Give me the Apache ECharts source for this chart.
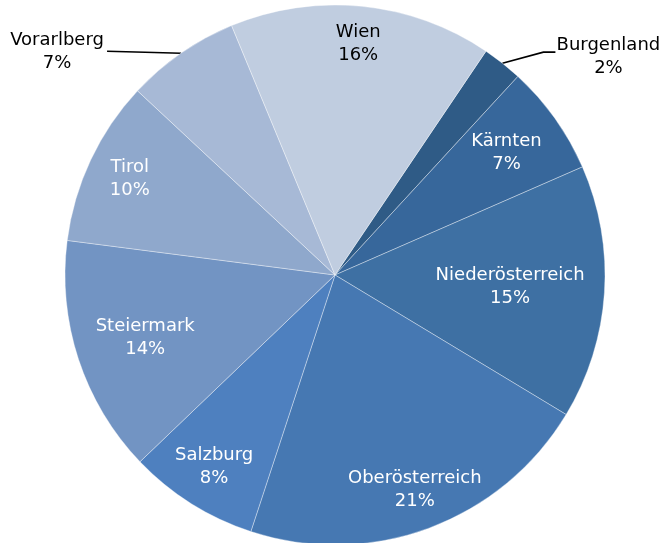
<!DOCTYPE html>
<html>
<head>
<meta charset="utf-8">
<script src="https://cdn.jsdelivr.net/npm/echarts@6/dist/echarts.min.js"></script>
<style>
  html, body { margin: 0; padding: 0; background: #fff; }
  #pieChart { width: 668px; height: 543px; }
</style>
</head>
<body>
<div id="pieChart"></div>
<script>
// Bundesländer, Anteile in %
const regions = ["Burgenland", "Kärnten", "Niederösterreich", "Oberösterreich", "Salzburg", "Steiermark", "Tirol", "Vorarlberg", "Wien"];
const shares = [2.4, 6.6, 15.2, 21.4, 7.8, 14.2, 9.9, 6.8, 15.7];

const colors = ["#2f5b86", "#37679b", "#3e70a3", "#4678b2", "#4e80bf", "#7294c3", "#8fa8cc", "#a7b9d6", "#c0cde0"];
// label distance from the centre (share of radius), null = outside
const labelDist = [null, 0.78, 0.65, 0.85, 0.84, 0.74, 0.84, null, 0.86];
const labelColor = ["#000", "#fff", "#fff", "#fff", "#fff", "#fff", "#fff", "#000", "#000"];

const cx = 335, cy = 275, R = 270;
const startDeg = 34; // clockwise from 12 o'clock

// mid angle of every slice
const total = shares.reduce((a, b) => a + b, 0);
let acc = 0;
const midAngles = shares.map(v => {
  const m = startDeg + (acc + v / 2) / total * 360;
  acc += v;
  return m * Math.PI / 180;
});

let chart = echarts.init(document.getElementById("pieChart"));

chart.setOption({
  animation: false,
  series: [
    {
      type: "pie",
      center: [cx, cy],
      radius: R,
      startAngle: 90 - startDeg,
      clockwise: true,
      percentPrecision: 0,
      avoidLabelOverlap: false,
      itemStyle: {
        borderColor: "rgba(255,255,255,0.6)",
        borderWidth: 0.6,
      },
      label: {
        show: true,
        position: "outside",
        formatter: "{b}\n{d}%",
        fontFamily: "DejaVu Sans",
        fontSize: 18,
        lineHeight: 23,
        align: "center",
      },
      labelLine: {
        show: true,
        lineStyle: { color: "#000", width: 1.6 },
      },
      labelLayout: function (params) {
        const i = params.dataIndex;
        const a = midAngles[i];
        const ex = cx + R * Math.sin(a), ey = cy - R * Math.cos(a);
        if (labelDist[i] != null) {
          return {
            x: cx + labelDist[i] * R * Math.sin(a),
            y: cy - labelDist[i] * R * Math.cos(a),
            align: "center",
            verticalAlign: "middle",
          };
        }
        if (i === 0) {
          // Burgenland, rechts oben
          return {
            x: ex + 106,
            y: ey - 6,
            align: "center",
            verticalAlign: "middle",
            labelLinePoints: [[ex, ey], [ex + 41, ey - 11], [ex + 53, ey - 11]],
          };
        }
        // Vorarlberg, links oben
        return {
          x: ex - 124,
          y: ey - 1,
          align: "center",
          verticalAlign: "middle",
          labelLinePoints: [[ex, ey], [ex - 36, ey - 1], [ex - 74, ey - 2]],
        };
      },
      data: regions.map((name, i) => ({
        name: name,
        value: shares[i],
        itemStyle: { color: colors[i] },
        label: { color: labelColor[i] },
        labelLine: { show: labelDist[i] == null },
      })),
    },
  ],
});
</script>
</body>
</html>
